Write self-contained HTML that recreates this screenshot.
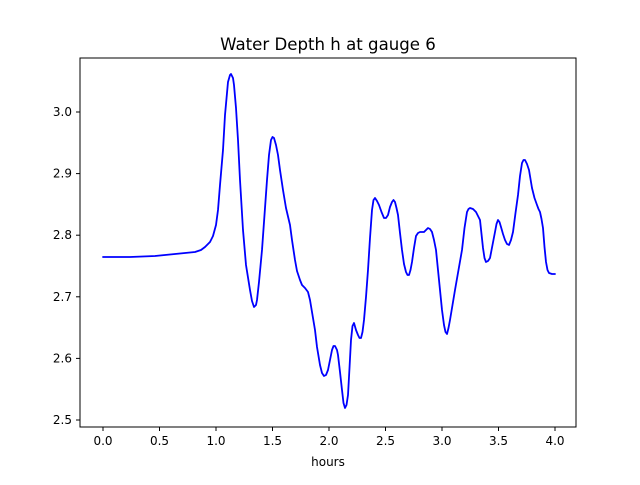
<!DOCTYPE html>
<html><head><meta charset="utf-8"><style>body{margin:0;background:#fff}</style></head><body>
<svg width="640" height="480" xmlns="http://www.w3.org/2000/svg" font-family="DejaVu Sans, Liberation Sans, sans-serif">
<rect width="640" height="480" fill="#fff"/>
<text x="328" y="50" font-size="16.6" text-anchor="middle">Water Depth h at gauge 6</text>
<polyline fill="none" stroke="#0000ff" stroke-width="1.8" stroke-linejoin="round" stroke-linecap="round" points="103,257 130,257 155,256 165,255 175,254 185,253 195,252 201,250 205,247 210,242 213,236 216,225 218,210 220,185 223,150 225,115 228,82 230,75 231,74 233,78 234,85 236,108 238,140 240,180 243,230 246,265 250,290 252,301 254,307 256,305 257,300 259,282 262,250 264,222 267,180 269,155 271,140 272.5,137 274,138 276,145 278,155 280,170 283,190 286,208 290,225 292,240 295,260 297,271 300,280 302,285 305,288 308,292 310,300 312,312 315,330 317,347 320,365 322,373 324,376 326,375 328,370 330,360 332,350 333.5,346 335,346 337,350 338,355 340,372 342,390 343.5,403 345,408 346.5,405 348,395 349.5,368 351,340 352.5,326 354,323 356,330 358,335 359.5,338 361,338 362.5,332 364,320 366,297 368,270 370,238 372,210 373.5,200 375,198 377,201 379,205 381.5,212 384,218 386,218 388,215 390,207 392,202 393.5,200 395,202 396.5,208 398,215 400,233 402,250 404,264 406,272 407.5,275 409,275 410.5,270 412,262 414,248 416,236 418,233 420,232 422,232 424,232 426,230 428,228 430,229 432,232 434,240 436,250 438,270 440,290 442,310 444,325 445.5,332 447,334 448.5,328 450,320 452.5,305 455,290 458.5,270 462,250 464.5,228 467,212 468.5,209 470,208 473,209 476,212 478,216 480,220 481.5,234 483,248 484.5,258 486,262 488,261 490,258 492.5,245 495,232 496.5,224 498,220 499.5,222 501,227 503,234 505,240 507,244 509,245 511,240 513,232 515.5,213 518,195 520,176 522,163 523.5,160 525,160 527,164 529,170 530.5,179 532,188 534.5,198 537,205 538.5,209 540,212 541.5,219 543,228 544.5,247 546,262 547.5,270 549,273 552,274 555,274"/>
<rect x="80" y="58" width="496" height="369" fill="none" stroke="#000" stroke-width="1"/>
<g stroke="#000" stroke-width="1">
<line x1="103" y1="427" x2="103" y2="431"/><line x1="159.5" y1="427" x2="159.5" y2="431"/><line x1="216" y1="427" x2="216" y2="431"/><line x1="272.5" y1="427" x2="272.5" y2="431"/><line x1="329" y1="427" x2="329" y2="431"/><line x1="385.5" y1="427" x2="385.5" y2="431"/><line x1="442" y1="427" x2="442" y2="431"/><line x1="498.5" y1="427" x2="498.5" y2="431"/><line x1="555" y1="427" x2="555" y2="431"/>
<line x1="76" y1="420" x2="80" y2="420"/><line x1="76" y1="358.4" x2="80" y2="358.4"/><line x1="76" y1="296.8" x2="80" y2="296.8"/><line x1="76" y1="235.2" x2="80" y2="235.2"/><line x1="76" y1="173.6" x2="80" y2="173.6"/><line x1="76" y1="112" x2="80" y2="112"/>
</g>
<g font-size="12" text-anchor="middle">
<text x="103" y="445">0.0</text><text x="159.5" y="445">0.5</text><text x="216" y="445">1.0</text><text x="272.5" y="445">1.5</text><text x="329" y="445">2.0</text><text x="385.5" y="445">2.5</text><text x="442" y="445">3.0</text><text x="498.5" y="445">3.5</text><text x="555" y="445">4.0</text>
<text x="328" y="466">hours</text>
</g>
<g font-size="12" text-anchor="end">
<text x="72" y="424">2.5</text><text x="72" y="362.4">2.6</text><text x="72" y="300.8">2.7</text><text x="72" y="239.2">2.8</text><text x="72" y="177.6">2.9</text><text x="72" y="116">3.0</text>
</g>
</svg>
</body></html>
